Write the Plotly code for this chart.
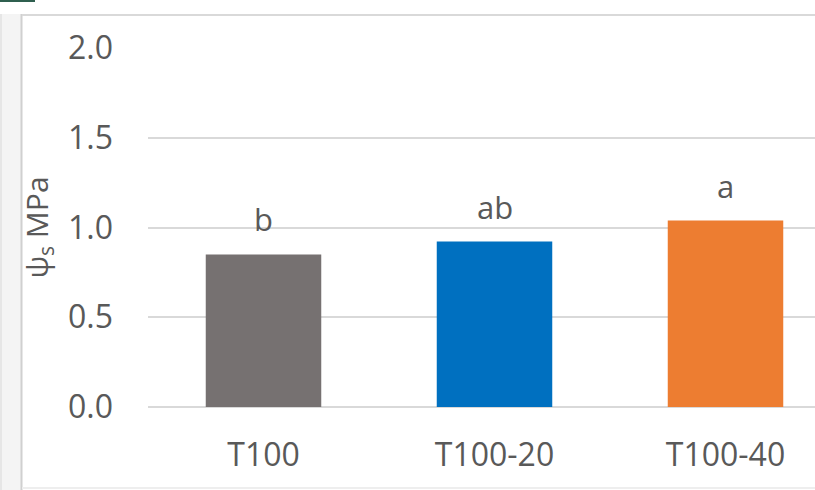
import plotly.graph_objects as go

categories = ["T100", "T100-20", "T100-40"]
values = [0.85, 0.922, 1.039]
letters = ["b", "ab", "a"]
colors = ["#767171", "#0070C0", "#ED7D31"]
yticks = [0.0, 0.5, 1.0, 1.5, 2.0]
ytick_text = ["0.0", "0.5", "1.0", "1.5", "2.0"]

W, H = 815, 490
L, R, T, B = 148, 0, 48, 83
pw, ph = W - L - R, H - T - B

def px(x):
    return (x - L) / pw

def py(y):
    return (H - B - y) / ph

font = "Open Sans"
gray_txt = "#595959"

fig = go.Figure()
fig.add_trace(go.Bar(
    x=categories, y=values, marker_color=colors, width=0.5,
    marker_line_width=0, showlegend=False, hoverinfo="skip",
))

for c, v, t in zip(categories, values, letters):
    fig.add_annotation(x=c, y=v, text=t, showarrow=False, yanchor="bottom",
                       yshift=12, font=dict(family=font, size=31, color=gray_txt))

shapes = [
    dict(type="rect", xref="paper", yref="paper", x0=px(0), x1=px(22), y0=py(490), y1=py(14),
         fillcolor="#f4f4f4", line_width=0, layer="below"),
    dict(type="line", xref="paper", yref="paper", x0=px(21.5), x1=px(21.5), y0=py(490), y1=py(14),
         line=dict(color="#d0d0d0", width=2)),
    dict(type="line", xref="paper", yref="paper", x0=px(1), x1=px(1), y0=py(490), y1=py(14),
         line=dict(color="#e6e6e6", width=2)),
    dict(type="line", xref="paper", yref="paper", x0=px(22), x1=px(815), y0=py(15), y1=py(15),
         line=dict(color="#d9d9d9", width=2)),
    dict(type="line", xref="paper", yref="paper", x0=px(22), x1=px(815), y0=py(488), y1=py(488),
         line=dict(color="#eeeeee", width=2)),
    dict(type="line", xref="paper", yref="paper", x0=px(0), x1=px(35), y0=py(1), y1=py(1),
         line=dict(color="#2f5f4f", width=2)),
]

fig.update_layout(
    width=W, height=H,
    margin=dict(l=L, r=R, t=T, b=B, pad=0),
    paper_bgcolor="white", plot_bgcolor="white",
    bargap=0.5,
    shapes=shapes,
    hovermode=False,
    xaxis=dict(
        range=[-0.5, 2.5 - (841 - 815) / 231],
        showgrid=False, showline=False, zeroline=False, ticks="",
        tickfont=dict(family=font, size=32, color=gray_txt),
        ticklabelstandoff=26,
    ),
    yaxis=dict(
        range=[0, 2.0], tickvals=yticks, ticktext=ytick_text,
        showgrid=True, gridcolor="#d9d9d9", gridwidth=1.5,
        zeroline=True, zerolinecolor="#d9d9d9", zerolinewidth=1.5,
        showline=False, ticks="",
        tickfont=dict(family=font, size=32, color=gray_txt),
        ticklabelstandoff=34,
        title=dict(text="ψ<sub>s</sub> MPa", font=dict(family=font, size=30, color=gray_txt), standoff=10),
    ),
)

fig.write_html("out.html", config={"displayModeBar": False},
               post_script="document.body.style.margin='0';document.body.style.overflow='hidden';")
